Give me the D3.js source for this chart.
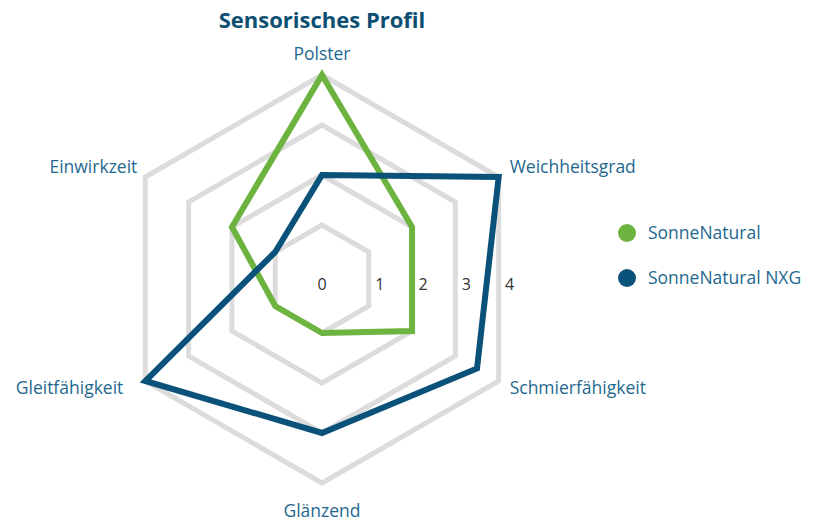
<!DOCTYPE html>
<html>
<head>
<meta charset="utf-8">
<script src="https://cdn.jsdelivr.net/npm/d3@7"></script>
<style>
    body { margin: 0; background: #fff; }
    svg { display: block; }
    text { font-family: "Open Sans", sans-serif; }
</style>
</head>
<body>
<svg id="chart"></svg>
<script>
// axis names, clockwise from the top
const axes = ['Polster', 'Weichheitsgrad', 'Schmierfähigkeit', 'Glänzend', 'Gleitfähigkeit', 'Einwirkzeit'];
const seriesNames = ['SonneNatural', 'SonneNatural NXG'];
const sonneNatural = [4, 2, 2, 1, 1, 2];
const sonneNaturalNXG = [2, 4, 3.5, 3, 4, 1];
const ringTicks = [0, 1, 2, 3, 4];

const width = 817;
const height = 522;
const cx = 322;
const cy = 279;
const colors = ['#6db33f', '#0b527a'];

const svg = d3.select('#chart')
    .attr('width', width)
    .attr('height', height);

const r = d3.scaleLinear().domain([0, 4]).range([4, 204]);
const step = 2 * Math.PI / axes.length;
const ang = i => i * step;

function pt(i, v) {
    const a = ang(i);
    return [cx + r(v) * Math.sin(a), cy - r(v) * Math.cos(a)];
}

const g = svg.append('g');

// grid rings
g.append('g').selectAll('path')
    .data(ringTicks.filter(t => t > 0))
    .enter()
    .append('path')
    .attr('d', t => d3.line()(axes.map((a, i) => pt(i, t))) + 'Z')
    .attr('fill', 'none')
    .attr('stroke', '#dcdcdc')
    .attr('stroke-width', 5);

// ring labels along the horizontal
g.append('g').selectAll('text')
    .data(ringTicks)
    .enter()
    .append('text')
    .attr('x', t => (t === 0 ? cx : cx + r(t) * Math.cos(Math.PI / 6) + 11))
    .attr('y', cy + 11)
    .attr('text-anchor', 'middle')
    .attr('font-size', 16)
    .attr('fill', '#333')
    .text(t => t);

// series
const line = d3.line();
[sonneNatural, sonneNaturalNXG].forEach((vals, k) => {
    g.append('path')
        .attr('d', line(vals.map((v, i) => pt(i, v))) + 'Z')
        .attr('fill', 'none')
        .attr('stroke', colors[k])
        .attr('stroke-width', 6)
        .attr('stroke-linejoin', 'miter');
});

// axis labels
const R = r(4);
// left-hand labels sit a bit further out in the original
const sideGap = [0, 11, 11, 0, 22, 8];
g.append('g').selectAll('text')
    .data(axes)
    .enter()
    .append('text')
    .attr('x', (d, i) => {
        const s = Math.sin(ang(i));
        if (Math.abs(s) < 0.01) return cx;
        return cx + s * R + (s > 0 ? sideGap[i] : -sideGap[i]);
    })
    .attr('y', (d, i) => {
        const c = Math.cos(ang(i));
        if (Math.abs(c - 1) < 0.01) return cy - R - 15;
        if (Math.abs(c + 1) < 0.01) return cy + R + 34;
        return cy - c * R + (c > 0 ? -4 : 13);
    })
    .attr('text-anchor', (d, i) => {
        const s = Math.sin(ang(i));
        if (Math.abs(s) < 0.01) return 'middle';
        return s > 0 ? 'start' : 'end';
    })
    .attr('font-size', 17.5)
    .attr('fill', '#1e6890')
    .text(d => d);

// title
svg.append('text')
    .attr('x', cx)
    .attr('y', 28)
    .attr('text-anchor', 'middle')
    .attr('font-family', 'Lato, sans-serif')
    .attr('font-weight', 'bold')
    .attr('font-size', 22)
    .attr('fill', '#0d4f73')
    .text('Sensorisches Profil');

// legend
const legend = svg.append('g').selectAll('g')
    .data(seriesNames)
    .enter()
    .append('g')
    .attr('transform', (d, i) => `translate(627,${233 + i * 45})`);

legend.append('circle')
    .attr('r', 9)
    .attr('fill', (d, i) => colors[i]);

legend.append('text')
    .attr('x', 21)
    .attr('y', 6)
    .attr('font-size', 17.5)
    .attr('fill', '#1e6890')
    .text(d => d);
</script>
</body>
</html>
